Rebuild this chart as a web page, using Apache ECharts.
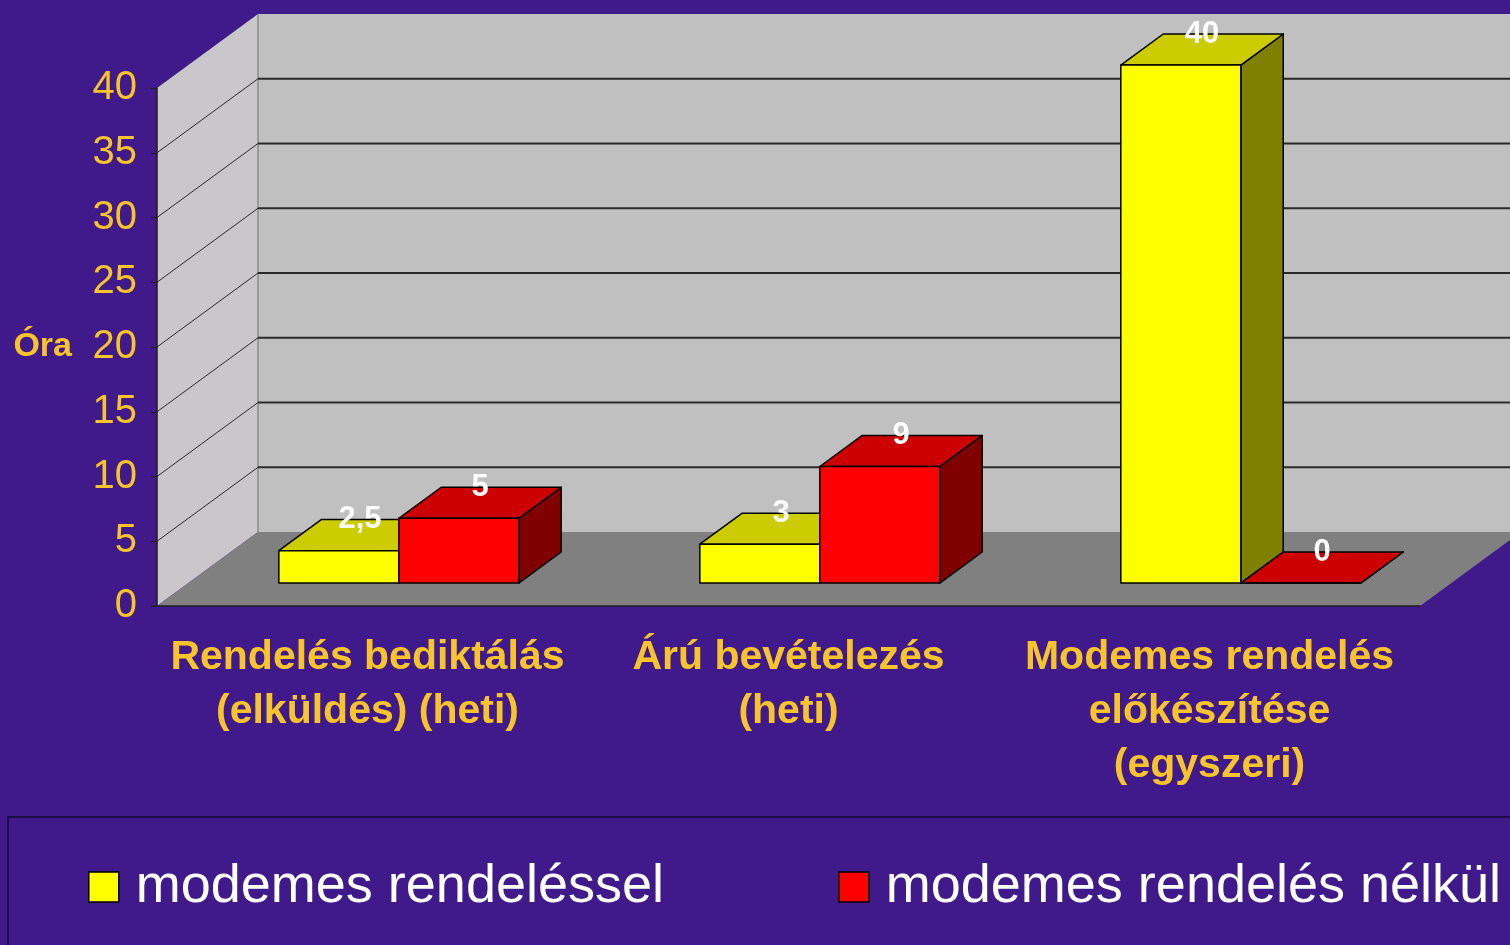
<!DOCTYPE html>
<html>
<head>
<meta charset="utf-8">
<title>Óra</title>
<script src="https://cdn.jsdelivr.net/npm/echarts@6/dist/echarts.min.js"></script>
<style>
html, body { margin: 0; padding: 0; background: #40198a; }
#chart { width: 1510px; height: 945px; }
</style>
</head>
<body>
<div id="chart"></div>
<script>
var categories = ['Rendelés bediktálás\n(elküldés) (heti)', 'Árú bevételezés\n(heti)', 'Modemes rendelés\nelőkészítése\n(egyszeri)'];
var seriesNames = ['modemes rendeléssel', 'modemes rendelés nélkül'];
var withModem = [2.5, 3, 40];
var withoutModem = [5, 9, 0];
var yTicks = [0, 5, 10, 15, 20, 25, 30, 35, 40];

var myChart = echarts.init(document.getElementById('chart'));

var FONT = '"Liberation Sans", Arial, sans-serif';
var GOLD = '#f7c52b';

// depth of the 3d box in pixels (front plane -> back wall)
var DX = 101, DY = -74;
var barFront = 0.31, barDepth = 0.42, barShare = 0.285;

var faceColors = [
    { front: '#ffff00', top: '#cccc00', side: '#808000' },
    { front: '#ff0000', top: '#cc0000', side: '#800000' }
];

function renderWalls(params, api) {
    var cs = params.coordSys;
    var x0 = cs.x, y0 = cs.y, x1 = cs.x + cs.width, yb = cs.y + cs.height;
    var yMax = yTicks[yTicks.length - 1];
    var children = [
        // back wall
        { type: 'polygon', shape: { points: [[x0 + DX, y0 + DY], [x1 + DX + 200, y0 + DY], [x1 + DX + 200, yb + DY], [x0 + DX, yb + DY]] }, style: { fill: '#c0c0c0' } },
        // side wall
        { type: 'polygon', shape: { points: [[x0, y0], [x0 + DX, y0 + DY], [x0 + DX, yb + DY], [x0, yb]] }, style: { fill: '#cac7cb' } },
        // floor
        { type: 'polygon', shape: { points: [[x0, yb], [x1, yb], [x1 + DX, yb + DY], [x0 + DX, yb + DY]] }, style: { fill: '#808080' } },
        // back corner
        { type: 'line', shape: { x1: x0 + DX, y1: y0 + DY, x2: x0 + DX, y2: yb + DY }, style: { stroke: '#8c8c8c', lineWidth: 1.5 } }
    ];
    yTicks.forEach(function (t) {
        if (t <= 0 || t >= yMax) return;
        var y = api.coord([0, t])[1];
        children.push({ type: 'line', shape: { x1: x0 + DX, y1: y + DY, x2: x1 + DX + 200, y2: y + DY }, style: { stroke: '#2a2a2a', lineWidth: 2 } });
        children.push({ type: 'line', shape: { x1: x0, y1: y, x2: x0 + DX, y2: y + DY }, style: { stroke: '#2a2a2a', lineWidth: 1 } });
    });
    return { type: 'group', children: children };
}

function makeBarRenderer(s) {
    return function (params, api) {
        var i = api.value(0), v = api.value(1);
        var base = api.coord([i, 0]);
        var top = api.coord([i, v]);
        var band = api.size([1, 0])[0];
        var w = band * barShare;
        var left = base[0] - w + s * w;
        var fx = DX * barFront, fy = DY * barFront;
        var bx = DX * (barFront + barDepth), by = DY * (barFront + barDepth);
        var c = faceColors[s];
        var edge = { stroke: '#000', lineWidth: 1.5, lineJoin: 'round' };
        var label = String(v).replace('.', ',');
        return {
            type: 'group',
            children: [
                { type: 'polygon', shape: { points: [[left + w + fx, top[1] + fy], [left + w + bx, top[1] + by], [left + w + bx, base[1] + by], [left + w + fx, base[1] + fy]] },
                  style: Object.assign({ fill: c.side }, edge) },
                { type: 'polygon', shape: { points: [[left + fx, top[1] + fy], [left + w + fx, top[1] + fy], [left + w + bx, top[1] + by], [left + bx, top[1] + by]] },
                  style: Object.assign({ fill: c.top }, edge) },
                { type: 'rect', shape: { x: left + fx, y: top[1] + fy, width: w, height: base[1] - top[1] },
                  style: Object.assign({ fill: c.front }, edge) },
                { type: 'text', z2: 100, x: left + w / 2 + (fx + bx) / 2, y: top[1] + by,
                  style: { text: label, fill: '#ffffff', fontFamily: FONT, fontWeight: 'bold', fontSize: 31, align: 'center', verticalAlign: 'middle' } }
            ]
        };
    };
}

var option = {
    backgroundColor: '#40198a',
    animation: false,
    grid: { left: 157, right: 90, top: 88, bottom: 339, containLabel: false },
    legend: {
        data: seriesNames,
        left: 88,
        top: 857,
        width: 1420,
        padding: 0,
        icon: 'rect',
        itemWidth: 30,
        itemHeight: 30,
        itemGap: 174,
        itemStyle: { borderColor: '#000', borderWidth: 1.5 },
        textStyle: { color: '#ffffff', fontFamily: FONT, fontSize: 54, lineHeight: 60, padding: [0, 0, 0, 12] }
    },
    graphic: [
        { type: 'rect', z: -1, shape: { x: 8, y: 817, width: 1600, height: 200 }, style: { fill: 'none', stroke: '#1c0b45', lineWidth: 2 } }
    ],
    xAxis: {
        type: 'category',
        data: categories,
        z: 5,
        axisLine: { lineStyle: { color: '#1e1e1e', width: 1.5 } },
        axisTick: { show: false },
        splitLine: { show: false },
        axisLabel: { interval: 0, color: GOLD, fontFamily: FONT, fontWeight: 'bold', fontSize: 41, lineHeight: 54, margin: 25 }
    },
    yAxis: {
        type: 'value',
        min: 0,
        max: 40,
        interval: 5,
        z: 5,
        name: 'Óra',
        nameLocation: 'middle',
        nameRotate: 0,
        nameGap: 85,
        nameTextStyle: { color: GOLD, fontFamily: FONT, fontWeight: 'bold', fontSize: 34 },
        axisLine: { show: true, lineStyle: { color: '#1e1e1e', width: 1.5 } },
        axisTick: { show: true, length: 6, lineStyle: { color: '#1e1e1e' } },
        splitLine: { show: false },
        axisLabel: { color: GOLD, fontFamily: FONT, fontSize: 40, margin: 20 }
    },
    series: [
        { type: 'custom', name: 'walls', z: 1, silent: true, renderItem: renderWalls, data: [[0, 0]] },
        { type: 'custom', name: seriesNames[0], z: 2, renderItem: makeBarRenderer(0), itemStyle: { color: faceColors[0].front },
          data: withModem.map(function (v, i) { return [i, v]; }) },
        { type: 'custom', name: seriesNames[1], z: 2, renderItem: makeBarRenderer(1), itemStyle: { color: faceColors[1].front },
          data: withoutModem.map(function (v, i) { return [i, v]; }) }
    ]
};

myChart.setOption(option);
</script>
</body>
</html>
